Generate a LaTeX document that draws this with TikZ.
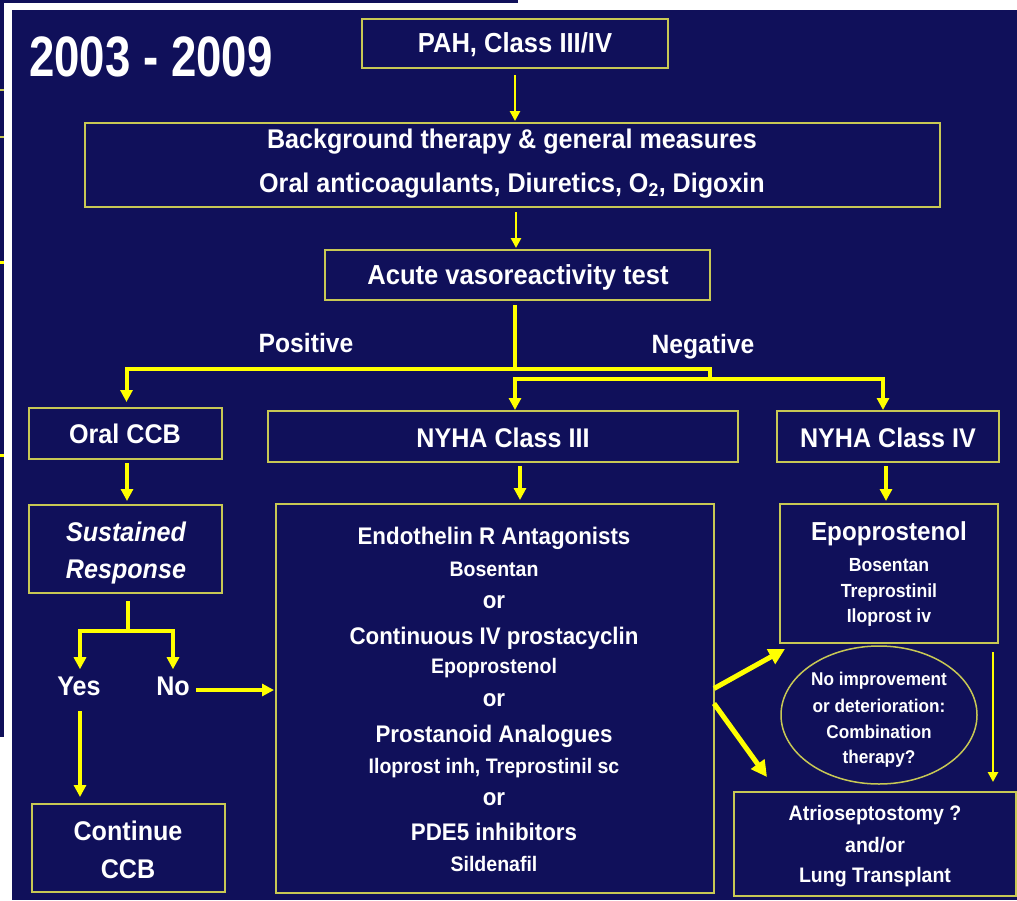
\documentclass[tikz,border=0pt]{standalone}
\usepackage{fontspec}
\setmainfont[FakeStretch=0.93]{Liberation Sans}
\newfontfamily\titlefont[FakeStretch=0.8]{Liberation Sans}
\usetikzlibrary{arrows.meta,shapes.geometric,calc}
\definecolor{navy}{RGB}{16,16,90}
\definecolor{boxline}{RGB}{200,200,84}
\definecolor{arrowy}{RGB}{255,255,0}
\newcommand{\fs}[1]{\fontsize{#1}{#1}\selectfont\bfseries}
\begin{document}
\begin{tikzpicture}[x=1pt,y=-1pt,
  box/.style={draw=boxline, line width=1.5pt, fill=navy, inner sep=0pt, outer sep=0pt},
  t/.style={text=white, inner sep=0pt, anchor=base, font=\fs{#1}},
  ti/.style={text=white, inner sep=0pt, anchor=base, font=\fs{#1}\itshape},
  thinarr/.style={draw=arrowy, line width=2.8pt, -{Triangle[width=10pt,length=10pt]}},
  branch/.style={draw=arrowy, line width=4pt, line join=miter},
  brancharr/.style={draw=arrowy, line width=4pt, line join=miter, -{Triangle[width=12pt,length=12pt]}},
  diagarr/.style={draw=arrowy, line width=5pt, -{Triangle[width=16pt,length=16pt]}}
]
\useasboundingbox (0,0) rectangle (1017,900);
% background: slide behind and white frame
\fill[white] (0,0) rectangle (1017,900);
\fill[navy] (0,0) rectangle (4,737);
\fill[navy] (0,0) rectangle (518,3);
\fill[boxline] (0,89) rectangle (4,91);
\fill[boxline] (0,136) rectangle (4,138);
\fill[arrowy] (0,261) rectangle (4,264);
\fill[arrowy] (0,454) rectangle (4,457);
% main slide
\fill[navy] (12,10) rectangle (1017,900);

% title
\node[t=57, anchor=base west, font=\titlefont\fontsize{57}{57}\selectfont\bfseries] (title) at (29,76) {2003 - 2009};

% boxes
\node[box, minimum width=306pt, minimum height=49pt] (pah) at (515,43.5) {};
\node[box, minimum width=855pt, minimum height=84pt] (bg) at (512.5,165) {};
\node[box, minimum width=385pt, minimum height=50pt] (avt) at (517.5,275) {};
\node[box, minimum width=193pt, minimum height=51pt] (occb) at (125.5,433.5) {};
\node[box, minimum width=470pt, minimum height=51pt] (ny3) at (503,436.5) {};
\node[box, minimum width=222pt, minimum height=51pt] (ny4) at (888,436.5) {};
\node[box, minimum width=193pt, minimum height=88pt] (sus) at (125.5,549) {};
\node[box, minimum width=193pt, minimum height=88pt] (ccb) at (128.5,848) {};
\node[box, minimum width=438pt, minimum height=389pt] (big) at (495,698.5) {};
\node[box, minimum width=218pt, minimum height=139pt] (epo) at (889,573.5) {};
\node[box, ellipse, minimum width=196pt, minimum height=138pt] (ell) at (879,715) {};
\node[box, minimum width=282pt, minimum height=104pt] (atr) at (875,844) {};

% texts
\node[t=27.5] (pahT) at (515,52) {PAH, Class III/IV};
\node[t=27] (bgT1) at (512,148) {Background therapy \& general measures};
\node[t=27] (bgT2) at (512,192) {Oral anticoagulants, Diuretics, O\textsubscript{2}, Digoxin};
\node[t=27.5] (avtT) at (518,284) {Acute vasoreactivity test};
\node[t=26.5] (pos) at (306,352) {Positive};
\node[t=26.5] (neg) at (703,353) {Negative};
\node[t=27] (occbT) at (125,443) {Oral CCB};
\node[t=27] (ny3T) at (503,447) {NYHA Class III};
\node[t=27] (ny4T) at (888,447) {NYHA Class IV};
\node[ti=27] (susT1) at (126,541) {Sustained};
\node[ti=27] (susT2) at (126,578) {Response};
\node[t=27] (yes) at (79,695) {Yes};
\node[t=27] (no) at (173,695) {No};
\node[t=27] (ccbT1) at (128,840) {Continue};
\node[t=27] (ccbT2) at (128,878) {CCB};

\node[t=24] (b1) at (494,544) {Endothelin R Antagonists};
\node[t=21] (b2) at (494,576) {Bosentan};
\node[t=24] (b3) at (494,608) {or};
\node[t=24] (b4) at (494,644) {Continuous IV prostacyclin};
\node[t=21] (b5) at (494,673) {Epoprostenol};
\node[t=24] (b6) at (494,706) {or};
\node[t=24] (b7) at (494,742) {Prostanoid Analogues};
\node[t=21] (b8) at (494,773) {Iloprost inh, Treprostinil sc};
\node[t=24] (b9) at (494,805) {or};
\node[t=24] (b10) at (494,840) {PDE5 inhibitors};
\node[t=21] (b11) at (494,871) {Sildenafil};

\node[t=26] (e1) at (889,540) {Epoprostenol};
\node[t=19] (e2) at (889,571) {Bosentan};
\node[t=19] (e3) at (889,597) {Treprostinil};
\node[t=19] (e4) at (889,622) {Iloprost iv};

\node[t=18.5] (l1) at (879,685) {No improvement};
\node[t=18.5] (l2) at (879,712) {or deterioration:};
\node[t=18.5] (l3) at (879,738) {Combination};
\node[t=18.5] (l4) at (879,763) {therapy?};

\node[t=21] (a1) at (875,820) {Atrioseptostomy ?};
\node[t=21] (a2) at (875,852) {and/or};
\node[t=21] (a3) at (875,882) {Lung Transplant};

% connectors
\draw[thinarr] ($(pah.south)+(0,7)$) -- ($(pah.south |- bg.north)+(0,-2)$);
\draw[thinarr] ($(avt.north |- bg.south)+(-1.5,5)$) -- ($(avt.north)+(-1.5,-2)$);

\coordinate (j1) at (515,369);
\coordinate (j2) at (710,379);
\coordinate (j3) at (515,379);
\coordinate (j4) at (883,379);
\draw[branch] ($(avt.south -| j1)+(0,5)$) -- (j1);
\draw[brancharr] (j1) -| ($(occb.north)+(1,-6)$);
\draw[branch] (j1) -| (j2);
\draw[branch] (j3) -- (j4);
\draw[brancharr] ($(j3)+(0,-2)$) -- ($(j3 |- ny3.north)+(0,-1)$);
\draw[brancharr] ($(j4)+(0,-2)$) -- ($(j4 |- ny4.north)+(0,-1)$);

\draw[brancharr] ($(occb.south)+(1.5,4)$) -- ($(sus.north)+(1.5,-4)$);
\coordinate (k1) at (128,631);
\draw[branch] ($(sus.south -| k1)+(0,8)$) -- (k1);
\draw[brancharr] (k1) -| ($(yes.north)+(1,-7)$);
\draw[brancharr] (k1) -| ($(no.north)+(0,-7)$);
\draw[brancharr] ($(no.base east)+(6,-5)$) -- ($(big.west |- no.base east)+(-2,-5)$);
\draw[brancharr] ($(yes.base)+(1,16)$) -- ($(yes.base |- ccb.north)+(1,-7)$);

\coordinate (c3) at (520,480);
\draw[brancharr] ($(ny3.south -| c3)+(0,4)$) -- ($(big.north -| c3)+(0,-4)$);
\draw[brancharr] ($(ny4.south)+(-2,4)$) -- ($(ny4.south |- epo.north)+(-2,-3)$);

\draw[diagarr] ($(big.east)+(0,-10)$) -- ($(epo.south west)+(5,6)$);
\draw[diagarr] ($(big.east)+(0,5)$) -- ($(atr.north west)+(33,-15)$);
\draw[thinarr] ($(epo.south east)+(-5,9)$) -- ($(atr.north east)+(-23,-10)$);
\end{tikzpicture}
\end{document}
